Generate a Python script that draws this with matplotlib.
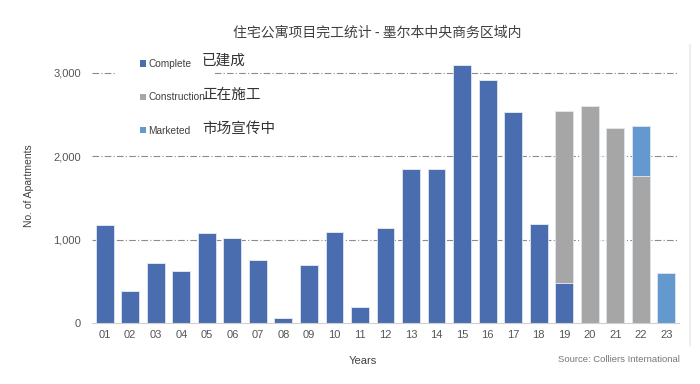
import numpy as np
import matplotlib.pyplot as plt
from matplotlib.patches import Patch, Rectangle
from matplotlib.ticker import FuncFormatter

plt.rcParams['font.family'] = ['Liberation Sans', 'Noto Sans CJK SC', 'DejaVu Sans']

years = ["01", "02", "03", "04", "05", "06", "07", "08", "09", "10", "11", "12",
         "13", "14", "15", "16", "17", "18", "19", "20", "21", "22", "23"]
complete = [1180, 390, 720, 625, 1080, 1020, 755, 60, 700, 1090, 190, 1135,
            1850, 1850, 3100, 2920, 2530, 1185, 480, 0, 0, 0, 0]
construction = [0, 0, 0, 0, 0, 0, 0, 0, 0, 0, 0, 0,
                0, 0, 0, 0, 0, 0, 2070, 2610, 2335, 1760, 0]
marketed = [0, 0, 0, 0, 0, 0, 0, 0, 0, 0, 0, 0,
            0, 0, 0, 0, 0, 0, 0, 0, 0, 600, 600]

series_names = ["Complete", "Construction", "Marketed"]
series_cn = ["已建成", "正在施工", "市场宣传中"]
colors = ["#4A6DB0", "#A6A6A6", "#6499CF"]

W, H = 700, 384
fig = plt.figure(figsize=(W / 100, H / 100), dpi=100)
ax = fig.add_axes([92 / W, 1 - 323 / H, (679 - 92) / W, (323 - 48) / H])

x = np.arange(len(years))
bottom = np.zeros(len(years))
for vals, c in zip([complete, construction, marketed], colors):
    v = np.array(vals, dtype=float)
    ax.bar(x, v, 0.7, bottom=bottom, color=c, edgecolor="#dfe6f0", linewidth=0.6, zorder=3)
    bottom += v

ax.set_xlim(-0.5, len(years) - 0.5)
ax.set_ylim(0, 3300)
ax.set_yticks([0, 1000, 2000, 3000])
ax.yaxis.set_major_formatter(FuncFormatter(lambda v, p: f"{int(v):,}"))
ax.set_xticks(x)
ax.set_xticklabels(years)
ax.tick_params(length=0, labelsize=8, labelcolor="#555555", pad=5)
ax.tick_params(axis="y", pad=8)
for v in [1000, 2000, 3000]:
    ax.axhline(v, color="#8c8c8c", lw=0.8, linestyle=(0, (6, 2, 1, 2)), zorder=1)
for s in ["top", "right", "left"]:
    ax.spines[s].set_visible(False)
ax.spines["bottom"].set_color("#cfcfcf")
ax.spines["bottom"].set_zorder(4)

ax.set_ylabel("No. of Apartments", fontsize=7.5, color="#404040", labelpad=14)
fig.text(363 / W, 1 - 361 / H, "Years", fontsize=8, color="#404040", ha="center", va="center")
fig.text(680 / W, 1 - 360 / H, "Source: Colliers International", fontsize=6.8,
         color="#777777", ha="right", va="center")
fig.text(377 / W, 1 - 33 / H, "住宅公寓项目完工统计 - 墨尔本中央商务区域内", fontsize=10,
         color="#404040", ha="center", va="center", family=["Noto Sans CJK SC", "DejaVu Sans"])

# white box behind the legend block
fig.patches.append(Rectangle((115 / W, 1 - 145 / H), 100 / W, 95 / H, transform=fig.transFigure,
                             facecolor="white", edgecolor="none", zorder=2))
handles = [Patch(facecolor=c, edgecolor="none") for c in colors]
leg = fig.legend(handles, series_names, loc="upper left", bbox_to_anchor=(135 / W, 1 - 54 / H),
                 frameon=False, fontsize=7.3, handlelength=0.6, handleheight=0.6,
                 handletextpad=0.2, labelspacing=2.3, borderpad=0)
for t in leg.get_texts():
    t.set_color("#404040")
for i, name in enumerate(series_cn):
    fig.text(202 / W, 1 - (61 + i * 34) / H, name, fontsize=10.5, color="#333333",
             ha="left", va="center", family=["Noto Sans CJK SC", "DejaVu Sans"])

fig.add_artist(plt.Line2D([690 / W, 690 / W], [1 - 45 / H, 1 - 345 / H],
                          transform=fig.transFigure, color="#eeeeee", lw=1.5))

fig.savefig("out.png", dpi=100)
